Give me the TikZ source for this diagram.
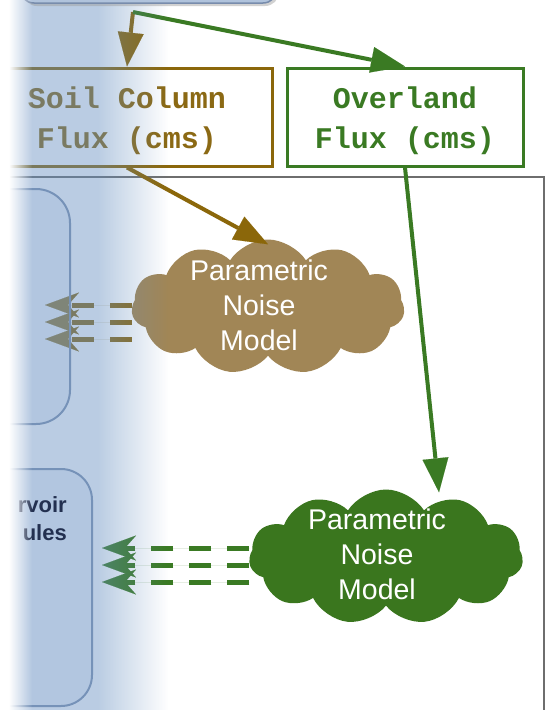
\documentclass[tikz,border=0pt]{standalone}
\usepackage{fontspec}
\setmainfont{Liberation Sans}
\newfontfamily\monob{Liberation Mono}
\usetikzlibrary{arrows.meta,shapes.symbols,fadings}

\definecolor{brn}{RGB}{139,103,10}
\definecolor{brntext}{RGB}{139,105,20}
\definecolor{brncloud}{RGB}{161,134,86}
\definecolor{grn}{RGB}{58,122,35}
\definecolor{grncloud}{RGB}{58,118,30}
\definecolor{framegray}{RGB}{110,110,110}
\definecolor{ovblue}{RGB}{102,144,193}
\definecolor{lboxline}{RGB}{118,146,184}
\definecolor{lboxfill}{RGB}{150,178,212}
\definecolor{navy}{RGB}{35,48,80}
\definecolor{topfill}{RGB}{176,195,220}
\definecolor{topline}{RGB}{120,140,172}

\tikzfading[name=bluefade, left color=transparent!55, middle color=transparent!81, right color=transparent!100]
\tikzfading[name=whitefade, left color=transparent!0, right color=transparent!100]

\tikzset{
  fluxbox/.style={draw, line width=3pt, minimum height=98pt, inner sep=0pt},
  fluxtext/.style={inner sep=0pt, align=center, font=\monob\bfseries\fontsize{30}{40}\selectfont},
  mainarr/.style={line width=4pt, -{Triangle[length=34pt,width=26pt,line width=0.1pt]}},
  noisedash/.style={line width=5pt, dash pattern=on 22pt off 16pt,
    -{Stealth[length=34pt,width=25pt,inset=11pt,line width=0.1pt]}},
  noisecloud/.style={cloud, cloud puffs=11, cloud puff arc=115, aspect=2, inner sep=0pt, draw=none},
  cloudtext/.style={text=white, align=center, inner sep=0pt, font=\fontsize{28.5}{35}\selectfont},
  lbox/.style={draw=lboxline, line width=2pt, rounded corners=34pt, fill=lboxfill, fill opacity=0.2},
  frameline/.style={draw=framegray, line width=2.5pt},
  lefttext/.style={text=navy, inner sep=0pt, anchor=base east, font=\bfseries\fontsize{22}{28}\selectfont}
}

\begin{document}
\begin{tikzpicture}[x=1pt,y=-1pt]
\useasboundingbox (0,0) rectangle (547,710);
\clip (0,0) rectangle (547,710);
\fill[white] (0,0) rectangle (547,710);

% frame of the lower panel
\draw[frameline] (-20,177) rectangle (544,760);

% flux boxes
\node[fluxbox, draw=brn, minimum width=290pt] (soil) at (127,117) {};
\node[fluxtext, text=brntext] (soiltext) at (127,121) {Soil Column\\Flux (cms)};
\node[fluxbox, draw=grn, minimum width=236pt] (over) at (405,117) {};
\node[fluxtext, text=grn] (overtext) at (405,121) {Overland\\Flux (cms)};

\coordinate (split) at (133,12);
\draw[mainarr, draw=brn, fill=brn] (split) -- (soil.north);
\draw[mainarr, draw=grn, fill=grn] (split) -- (over.north);

% arrow tips at the left modules
\coordinate (bt1) at (45,305);
\coordinate (bt2) at (45,322);
\coordinate (bt3) at (45,339);
\coordinate (gt1) at (102,548);
\coordinate (gt2) at (102,565);
\coordinate (gt3) at (102,582);

% clouds
\node[noisecloud, fill=brncloud, minimum width=273pt, minimum height=135pt] (bcloud) at (268,307) {};
\node[noisecloud, fill=grncloud, minimum width=274pt, minimum height=135pt] (gcloud) at (386,557) {};

% dashed noise arrows
\foreach \t in {bt1,bt2,bt3}
  \draw[noisedash, draw=brntext, fill=brntext] (bcloud.west |- \t) -- (\t);
\foreach \t in {gt1,gt2,gt3}
  \draw[noisedash, draw=grn, fill=grn] (gcloud.west |- \t) -- (\t);

\node[cloudtext] (btext) at (259,305) {Parametric\\Noise\\Model};
\node[cloudtext] (gtext) at (377,554) {Parametric\\Noise\\Model};

\draw[mainarr, draw=brn, fill=brn] (soil.south) -- ([yshift=-5pt]bcloud.north);
\draw[mainarr, draw=grn, fill=grn] (over.south) -- ([xshift=53pt,yshift=-3pt]gcloud.north);

% blue panel overlay
\fill[ovblue, opacity=0.45] (0,-5) rectangle (98,715);
\fill[ovblue, path fading=bluefade] (98,-5) rectangle (168,715);

% left modules
\node[lbox, minimum width=130pt, minimum height=235pt] (lbox1) at (5,306.5) {};
\node[lbox, rounded corners=31pt, minimum width=152pt, minimum height=237pt] (lbox2) at (16,587.5) {};
\node[lefttext] (lt1) at (67,512) {rvoir};
\node[lefttext] (lt2) at (67,540) {ules};

% top module (bottom edge visible)
\fill[black!40, opacity=0.45, rounded corners=14pt] (23,-40) rectangle (279,6);
\node[draw=topline, fill=topfill, line width=1.5pt, rounded corners=14pt,
      minimum width=257pt, minimum height=43pt] (top) at (148.5,-18.5) {};

% white fade at the left edge
\fill[white] (0,-5) rectangle (9,715);
\fill[white, path fading=whitefade] (9,-5) rectangle (32,715);
\end{tikzpicture}
\end{document}
